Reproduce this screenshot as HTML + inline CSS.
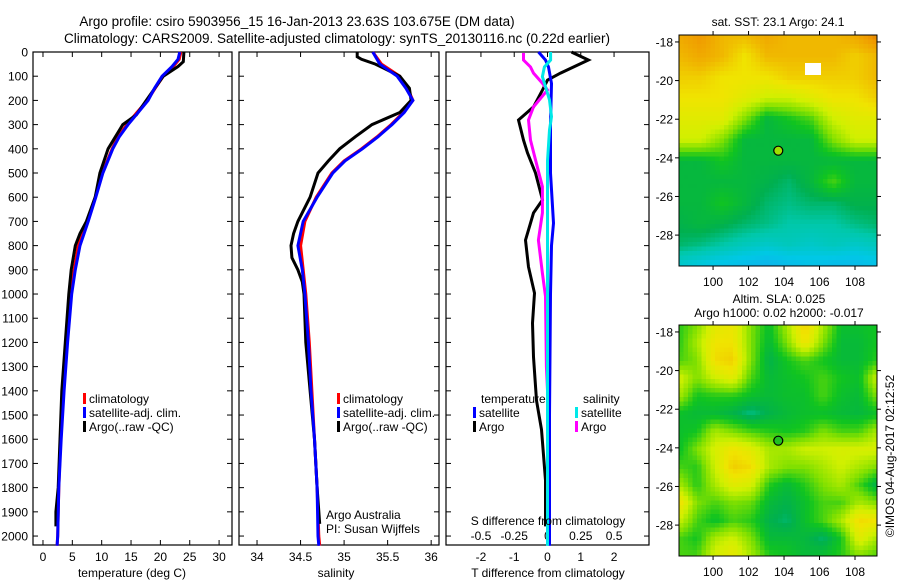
<!DOCTYPE html>
<html><head><meta charset="utf-8"><style>
html,body{margin:0;padding:0;background:#fff;}
svg{display:block;font-family:"Liberation Sans",sans-serif;}
</style></head><body>
<svg id="chart" width="900" height="580" viewBox="0 0 900 580">
<g font-size="13.5" text-anchor="middle" fill="#000">
<text x="297" y="26">Argo profile: csiro 5903956_15 16-Jan-2013 23.63S 103.675E (DM data)</text>
<text x="337" y="43">Climatology: CARS2009. Satellite-adjusted climatology: synTS_20130116.nc (0.22d earlier)</text>
</g>
<g id="panels"></g>
<g id="maps"></g>
</svg>
<script>
// ---- Profile data ----
const tempDepth = [0,30,60,100,150,200,250,300,350,400,500,600,700,800,900,1000,1200,1400,1600,1800,2000,2040];
const tempSat   = [23.3,23,22,20.3,19,17.9,16.2,14.5,13,11.9,10.2,9,7.7,6.3,5.5,4.9,4.2,3.6,3.1,2.7,2.5,2.4];
const tempClim  = [23.5,23.2,22.2,20.5,19.1,17.8,16.0,14.3,12.8,11.8,10.1,8.9,7.5,6.0,5.3,4.7,4.1,3.5,3.0,2.7,2.5,2.4];
const argoTDepth = [0,40,60,100,200,260,300,400,500,600,700,750,800,900,1000,1200,1400,1600,1800,1900,1960];
const argoT      = [24,23.9,23,20.5,17.6,15.9,13.6,11.1,9.7,8.9,7.4,6.3,5.5,4.8,4.4,3.8,3.2,2.9,2.6,2.2,2.2];
const salDepth = [0,50,100,150,200,250,300,350,400,450,500,600,700,800,900,1000,1200,1400,1600,1800,2000,2040];
const salSat   = [35.33,35.41,35.61,35.71,35.79,35.69,35.55,35.39,35.21,35.01,34.87,34.69,34.53,34.47,34.52,34.55,34.59,34.62,34.66,34.69,34.70,34.71];
const salClim  = [35.33,35.43,35.64,35.73,35.79,35.68,35.54,35.38,35.20,35.00,34.86,34.68,34.55,34.50,34.53,34.56,34.60,34.63,34.66,34.69,34.71,34.72];
const argoSDepth = [0,20,30,50,80,100,150,200,250,300,350,400,450,500,600,700,750,800,850,900,950,1000,1200,1400,1600,1800,1950];
const argoS      = [35.15,35.15,35.2,35.36,35.53,35.64,35.75,35.77,35.64,35.32,35.13,34.95,34.82,34.70,34.61,34.47,34.42,34.39,34.40,34.47,34.52,34.54,34.56,34.61,34.66,34.69,34.72];
const argoTdDepth = [0,4,33,62,87,116,157,227,281,364,417,500,611,665,777,888,996,1120,1260,1440,1560,1770,1960];
const argoTd      = [0.72,0.78,1.23,0.78,0.39,0,-0.15,-0.42,-0.87,-0.72,-0.6,-0.36,-0.15,-0.42,-0.66,-0.57,-0.39,-0.45,-0.42,-0.33,-0.18,-0.06,-0.06];
const satTdDepth = [0,33,62,130,300,500,638,707,800,1000,1500,2040];
const satTd      = [-0.27,-0.06,0.03,0.12,0.09,0.09,0.15,0.18,0.12,0.09,0.06,0.06];
const satSdDepth = [0,33,62,102,143,198,267,322,450,1000,2040];
const satSd      = [0.023,0.023,-0.023,-0.038,-0.015,0.015,0.03,0.015,0,0,0];
const argoSdDepth = [4,33,62,87,129,157,227,281,364,446,556,665,777,914,1010,1300,1500,1800];
const argoSd      = [-0.18,-0.18,-0.128,-0.105,-0.038,0,-0.105,-0.143,-0.128,-0.09,-0.038,-0.038,-0.068,-0.038,-0.015,-0.008,0.008,0.015];
const depthTicks = [0,100,200,300,400,500,600,700,800,900,1000,1100,1200,1300,1400,1500,1600,1700,1800,1900,2000];
const tempTicks = [0,5,10,15,20,25,30];
const salTicks = [34,34.5,35,35.5,36];
const tdTicks = [-2,-1,0,1,2];
const sdTicks = [-0.5,-0.25,0,0.25,0.5];
const sdTickLabels = ["-0.5","-0.25","0","0.25","0.5"];
// ---- Map data ----
const lonTicks = [100,102,104,106,108];
const latTicks = [-18,-20,-22,-24,-26,-28];
const argoLon = 103.675, argoLat = -23.63;
const sstGrid = [
[0.85,0.9,0.8,0.8,0.85,0.8,0.8,0.8,0.85,0.95],
[0.8,0.85,0.8,0.7,0.8,0.8,0.8,0.8,0.75,0.8],
[0.75,0.75,0.7,0.7,0.7,0.75,0.75,0.75,0.75,0.8],
[0.7,0.7,0.7,0.65,0.6,0.6,0.65,0.7,0.7,0.75],
[0.65,0.65,0.65,0.5,0.35,0.4,0.45,0.6,0.65,0.65],
[0.6,0.6,0.5,0.35,0.35,0.35,0.35,0.5,0.6,0.6],
[0.35,0.35,0.4,0.35,0.35,0.35,0.35,0.35,0.35,0.35],
[0.35,0.35,0.35,0.35,0.33,0.3,0.35,0.45,0.35,0.35],
[0.35,0.35,0.4,0.35,0.3,0.28,0.3,0.3,0.33,0.33],
[0.33,0.35,0.33,0.3,0.28,0.25,0.25,0.25,0.28,0.3],
[0.3,0.28,0.25,0.22,0.2,0.22,0.2,0.22,0.2,0.22],
[0.18,0.15,0.12,0.1,0.08,0.1,0.12,0.1,0.1,0.12]];
const slaGrid = [
[.42,.5,.65,.68,.5,.38,.55,.75,.55,.38,.38,.4],
[.42,.55,.7,.7,.5,.36,.5,.7,.5,.36,.36,.4],
[.45,.5,.72,.75,.5,.33,.4,.45,.4,.36,.36,.42],
[.62,.5,.6,.65,.45,.36,.38,.4,.45,.4,.38,.6],
[.55,.4,.42,.42,.38,.36,.38,.38,.45,.38,.36,.5],
[.38,.36,.36,.33,.28,.33,.36,.38,.38,.36,.35,.38],
[.38,.4,.55,.5,.45,.42,.4,.42,.5,.45,.45,.55],
[.38,.5,.62,.7,.65,.55,.55,.6,.6,.62,.62,.62],
[.45,.42,.6,.75,.72,.55,.5,.5,.55,.6,.55,.5],
[.55,.42,.55,.65,.62,.42,.36,.42,.5,.55,.45,.33],
[.72,.5,.45,.5,.48,.36,.33,.38,.45,.45,.55,.5],
[.6,.45,.38,.45,.42,.33,.3,.38,.45,.55,.72,.7],
[.45,.4,.55,.6,.5,.36,.36,.35,.3,.4,.65,.55],
[.45,.45,.62,.68,.55,.42,.4,.36,.38,.42,.5,.45]];

const NS="http://www.w3.org/2000/svg";
function mk(tag,attrs,parent){const e=document.createElementNS(NS,tag);for(const k in attrs)e.setAttribute(k,attrs[k]);parent.appendChild(e);return e;}
const panelsG=document.getElementById('panels');
const TOP=52,BOT=545;
const yD=d=>TOP+d*(BOT-TOP)/2037;

function panel(name,x0,x1,vmin,vmax){
  const g=mk('g',{},panelsG);
  
  
  const sx=v=>x0+(v-vmin)/(vmax-vmin)*(x1-x0);
  return {g,sx,x0,x1};
}
function frame(p,withLabels){
  const f=mk('rect',{x:p.x0,y:TOP,width:p.x1-p.x0,height:BOT-TOP,fill:'none',stroke:'#000','stroke-width':1.2},p.g);
  
  
  depthTicks.forEach(d=>{
    const y=yD(d);
    mk('line',{x1:p.x0,x2:p.x0+5,y1:y,y2:y,stroke:'#000'},p.g);
    mk('line',{x1:p.x1,x2:p.x1-5,y1:y,y2:y,stroke:'#000'},p.g);
    if(withLabels){
      const t=mk('text',{x:28,y:y+4.5,'font-size':12,'text-anchor':'end'},p.g);
      t.textContent=d;
      
      
    }
  });
}
function xticks(p,ticks,labels,sx,ly,topT,botT){
  ticks.forEach((v,i)=>{
    const x=sx(v);
    if(topT) mk('line',{x1:x,x2:x,y1:TOP,y2:TOP+5,stroke:'#000'},p.g);
    if(botT) mk('line',{x1:x,x2:x,y1:BOT,y2:BOT-5,stroke:'#000'},p.g);
    const t=mk('text',{x:x,y:ly,'font-size':12,'text-anchor':'middle'},p.g);
    t.textContent=labels?labels[i]:v;
    
    
  });
}
function line(p,depths,vals,sx,color,w,name){
  const pts=depths.map((d,i)=>sx(vals[i]).toFixed(1)+','+yD(d).toFixed(1)).join(' ');
  const pl=mk('polyline',{points:pts,fill:'none',stroke:color,'stroke-width':w,'stroke-linejoin':'miter'},p.g);
  
  
}
function txt(g,x,y,s,size,name,anchor){
  const t=mk('text',{x:x,y:y,'font-size':size||12,'text-anchor':anchor||'start'},g);
  t.textContent=s;
  
  
  return t;
}
function legend(g,x,y,items){
  items.forEach((it,i)=>{
    const r=mk('rect',{x:x,y:y+i*14-5,width:3,height:11,fill:it[0]},g);
    
    
    txt(g,x+6,y+i*14+5,it[1],12,'legend-entry');
  });
}
// Panel 1: temperature
const p1=panel('temperature-panel',33,232,-1.7,32.2);
frame(p1,true);
xticks(p1,tempTicks,null,p1.sx,561,true,true);
line(p1,tempDepth,tempClim,p1.sx,'#ff0000',3,'climatology-temp-line');
line(p1,argoTDepth,argoT,p1.sx,'#000',3,'argo-temp-line');
line(p1,tempDepth,tempSat,p1.sx,'#0000ff',3,'satellite-temp-line');
txt(p1.g,132,577,'temperature (deg C)',12,'x-axis-title','middle');
legend(p1.g,83,398,[['#ff0000','climatology'],['#0000ff','satellite-adj. clim.'],['#000','Argo(..raw -QC)']]);
// Panel 2: salinity
const p2=panel('salinity-panel',239,439,33.793,36.09);
frame(p2,false);
xticks(p2,salTicks,null,p2.sx,561,true,true);
line(p2,salDepth,salClim,p2.sx,'#ff0000',3,'climatology-salinity-line');
line(p2,argoSDepth,argoS,p2.sx,'#000',3,'argo-salinity-line');
line(p2,salDepth,salSat,p2.sx,'#0000ff',3,'satellite-salinity-line');
txt(p2.g,336,577,'salinity',12,'x-axis-title','middle');
legend(p2.g,337,398,[['#ff0000','climatology'],['#0000ff','satellite-adj. clim.'],['#000','Argo(..raw -QC)']]);
txt(p2.g,326,519,'Argo Australia',12,'institution-label');
txt(p2.g,326,533,'PI: Susan Wijffels',12,'pi-label');
// Panel 3: differences
const p3=panel('difference-panel',446,649,-3.05,3.05);
const sxS=v=>p3.sx(v*4);
frame(p3,false);
xticks(p3,tdTicks,null,p3.sx,561,true,false);
xticks(p3,sdTicks,sdTickLabels,sxS,540,false,false);
line(p3,argoTdDepth,argoTd,p3.sx,'#000',3,'argo-temp-diff-line');
line(p3,argoSdDepth,argoSd,sxS,'#ff00ff',3,'argo-salinity-diff-line');
line(p3,satTdDepth,satTd,p3.sx,'#0000ff',3,'satellite-temp-diff-line');
line(p3,satSdDepth,satSd,sxS,'#00e8e8',3,'satellite-salinity-diff-line');
txt(p3.g,548,525,'S difference from climatology',12,'s-axis-title','middle');
txt(p3.g,548,577,'T difference from climatology',12,'t-axis-title','middle');
txt(p3.g,481,403,'temperature',12,'legend-title-temperature');
txt(p3.g,583,403,'salinity',12,'legend-title-salinity');
legend(p3.g,473,412,[['#0000ff','satellite'],['#000','Argo']]);
legend(p3.g,575,412,[['#00e8e8','satellite'],['#ff00ff','Argo']]);

// ---- Maps ----
const mapsG=document.getElementById('maps');
const cstops=[[0,[32,150,240]],[0.15,[0,200,230]],[0.25,[0,200,170]],[0.32,[0,176,80]],[0.4,[16,196,32]],[0.5,[128,224,0]],[0.6,[208,240,0]],[0.7,[240,228,0]],[0.8,[240,184,0]],[0.9,[240,152,0]],[1,[208,104,0]]];
function cmap(v){
  v=Math.max(0,Math.min(1,v));
  for(let i=1;i<cstops.length;i++){
    if(v<=cstops[i][0]){const a=cstops[i-1],b=cstops[i],t=(v-a[0])/(b[0]-a[0]);
      const c=a[1].map((x,k)=>Math.round(x+(b[1][k]-x)*t));return 'rgb('+c.join(',')+')';}
  }
  return 'rgb(208,104,0)';
}
function interp(grid,fx,fy){
  const R=grid.length,C=grid[0].length;
  const gx=Math.max(0,Math.min(C-1,fx*(C-1))),gy=Math.max(0,Math.min(R-1,fy*(R-1)));
  const i0=Math.floor(gx),j0=Math.floor(gy),i1=Math.min(C-1,i0+1),j1=Math.min(R-1,j0+1);
  const tx=gx-i0,ty=gy-j0;
  return grid[j0][i0]*(1-tx)*(1-ty)+grid[j0][i1]*tx*(1-ty)+grid[j1][i0]*(1-tx)*ty+grid[j1][i1]*tx*ty;
}
function drawMap(name,y0,grid,titleLines){
  const g=mk('g',{},mapsG);
  
  
  const X0=679,X1=877,Y0=y0,Y1=y0+231;
  const lon0=98.08,lon1=109.24,lat0=-17.64,lat1=-29.6;
  const sx=l=>X0+(l-lon0)/(lon1-lon0)*(X1-X0);
  const sy=l=>Y0+(l-lat0)/(lat1-lat0)*(Y1-Y0);
  const cw=4.5,ch=4.5;
  const cells=mk('g',{'shape-rendering':'crispEdges'},g);
  
  
  for(let y=Y0;y<Y1;y+=ch){for(let x=X0;x<X1;x+=cw){
    const v=interp(grid,(x+cw/2-X0)/(X1-X0),(y+ch/2-Y0)/(Y1-Y0));
    mk('rect',{x:x.toFixed(2),y:y.toFixed(2),width:Math.min(cw,X1-x)+0.3,height:Math.min(ch,Y1-y)+0.3,fill:cmap(v)},cells);
  }}
  const fr=mk('rect',{x:X0,y:Y0,width:X1-X0,height:Y1-Y0,fill:'none',stroke:'#000','stroke-width':1},g);
  
  
  lonTicks.forEach(l=>{const x=sx(l);
    mk('line',{x1:x,x2:x,y1:Y0,y2:Y0-4,stroke:'#000'},g);
    mk('line',{x1:x,x2:x,y1:Y1,y2:Y1+4,stroke:'#000'},g);
    txt(g,x,Y1+20,String(l),12,'lon-tick-label','middle');});
  latTicks.forEach(l=>{const y=sy(l);
    mk('line',{x1:X0,x2:X0-4,y1:y,y2:y,stroke:'#000'},g);
    mk('line',{x1:X1,x2:X1+4,y1:y,y2:y,stroke:'#000'},g);
    txt(g,673,y+4.5,String(l),12,'lat-tick-label','end');});
  const c=mk('circle',{cx:sx(argoLon),cy:sy(argoLat),r:4.5,fill:'none',stroke:'#000','stroke-width':1.2},g);
  
  
  titleLines.forEach((s,i)=>txt(g,s[1],s[2],s[0],12,'map-title','middle'));
  return {g,sx,sy};
}
const m1=drawMap('sst-map',35,sstGrid,[['sat. SST: 23.1  Argo: 24.1',778,26]]);
const wp=mk('rect',{x:805,y:63,width:16,height:12,fill:'#fff'},m1.g);


const m1c=m1.g.querySelector('circle');m1c.setAttribute('fill','#9ee000');
const m2=drawMap('sla-map',325,slaGrid,[['Altim. SLA: 0.025',779,303],['Argo h1000: 0.02 h2000: -0.017',779,317]]);
const m2c=m2.g.querySelector('circle');m2c.setAttribute('fill','#20c020');
const cr=txt(mapsG,0,0,'©IMOS 04-Aug-2017 02:12:52',12,'timestamp-credit','middle');
cr.setAttribute('transform','translate(894,456) rotate(-90)');
</script>
</body></html>
